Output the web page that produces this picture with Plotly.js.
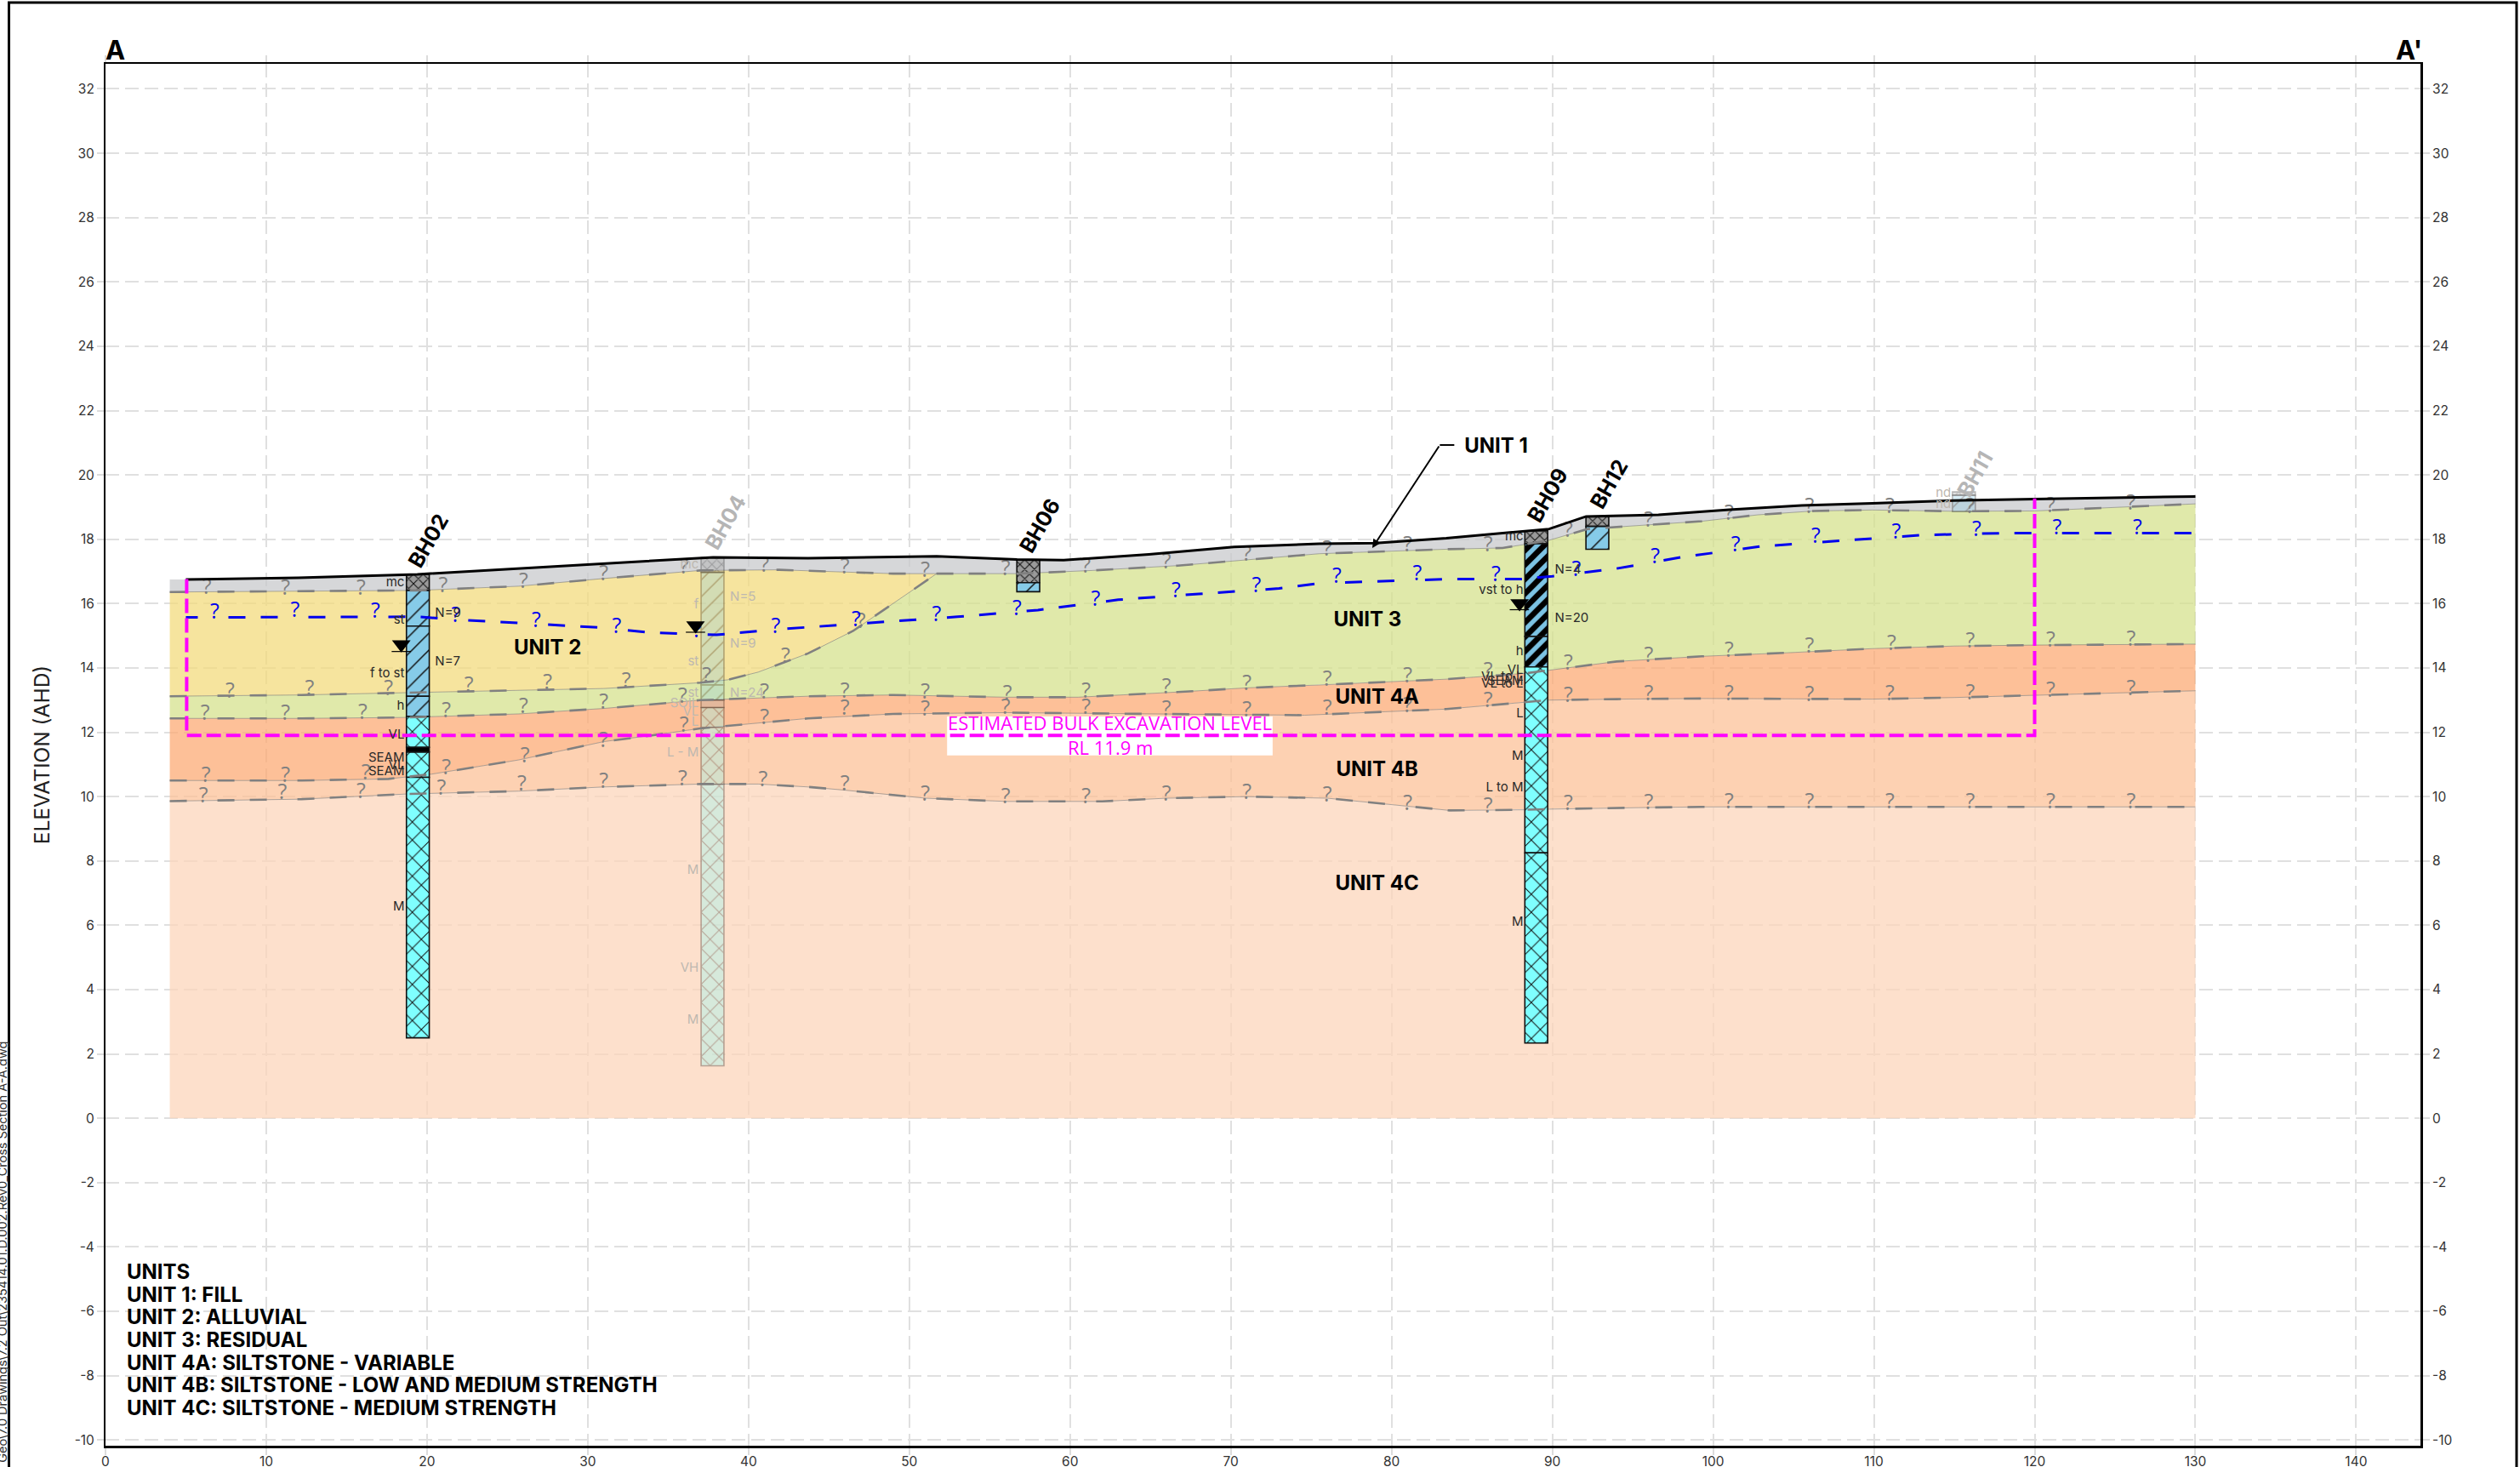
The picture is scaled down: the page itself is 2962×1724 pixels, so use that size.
<!DOCTYPE html>
<html><head><meta charset="utf-8">
<script src="https://cdn.plot.ly/plotly-3.0.1.min.js"></script>
<style>html,body{margin:0;padding:0;background:#fff}</style>
</head><body><div id="chart" style="width:2962px;height:1724px"></div>
<script>
// ---- strata boundaries (chainage m, elevation m AHD)
const groundX=[5,12,19.4,25,30,37.8,43.7,51.7,56.7,59.6,64.9,70.2,75.5,79,83.4,88.3,89.8,92.1,96.6,101,105.5,109.9,114.9,120,130];
const groundY=[16.75,16.8,16.91,17.07,17.2,17.44,17.41,17.47,17.37,17.35,17.53,17.76,17.86,17.88,18.03,18.24,18.32,18.71,18.76,18.92,19.05,19.12,19.2,19.25,19.33];
const unit1BaseWestX=[4,19.4,25.7,31,37,41.9,43.7,49,51.7];
const unit1BaseWestY=[16.36,16.41,16.54,16.78,17.03,17.05,17.02,16.93,16.93];
const unit1BaseEastX=[56.7,61.4,66.7,71,75.5,83.4,86.9,88.3,89.8,92.2,95.8,99.3,102.8,106.3,109.9,115,120,124,130];
const unit1BaseEastY=[16.93,17.03,17.18,17.36,17.55,17.69,17.73,17.84,17.97,18.32,18.44,18.56,18.76,18.88,18.91,18.87,18.88,18.97,19.1];
const unit2BaseX=[4,12.2,18.7,23,31,37,38.7,40.6,43.7,46.5,49,51.7];
const unit2BaseY=[13.12,13.16,13.23,13.28,13.36,13.54,13.63,13.87,14.45,15.15,16.0,16.93];
const unit3BaseX=[4,12.2,18.7,25.7,31,37,43.7,49,56,60.5,66.7,71,75.5,83.4,88.3,89.8,94,99.3,104.6,109.9,115,120,130];
const unit3BaseY=[12.43,12.43,12.46,12.57,12.74,13.0,13.12,13.16,13.09,13.09,13.25,13.38,13.47,13.65,13.83,13.93,14.2,14.36,14.47,14.6,14.68,14.71,14.74];
const unit4aBaseX=[4,12.2,17.6,20.3,25.7,31,33.8,37,43.7,49,56,60.5,66.7,74.6,83.4,88.3,89.8,94,99.3,109.9,115,120,130];
const unit4aBaseY=[10.5,10.5,10.55,10.7,11.14,11.71,11.89,12.12,12.43,12.57,12.61,12.59,12.55,12.53,12.72,12.94,13.0,13.03,13.05,13.03,13.08,13.15,13.29];
const unit4bBaseX=[4,12.2,18.7,25.7,31,37,40.6,43.7,46,51,56,62,66,71,76,80,83.6,88.3,89.8,95.8,99.3,130];
const unit4bBaseY=[9.86,9.92,10.08,10.17,10.3,10.39,10.39,10.3,10.2,9.95,9.85,9.85,9.95,10.0,9.95,9.75,9.57,9.59,9.61,9.66,9.68,9.68];
const unit4cBaseX=[4,130];
const unit4cBaseY=[0,0];
const waterX=[5,19.4,21.9,25.7,31,33.8,38,41.8,50,53,58,63,68,73,75.5,83.4,88,90,94,98,103,108.2,113,118,130];
const waterY=[15.57,15.59,15.5,15.4,15.25,15.1,15.03,15.2,15.48,15.59,15.8,16.12,16.3,16.47,16.63,16.76,16.76,16.85,17.09,17.44,17.78,17.97,18.13,18.19,18.19];
const excavX=[5.05,5.05,120,120];
const excavY=[16.76,11.9,11.9,19.27];
const excavBoxX=[52.35,72.6,72.6,52.35,52.35];
const excavBoxY=[11.28,11.28,12.49,12.49,11.28];

// ---- "?" uncertainty marks along each boundary
const qUnit1X=[6.3,11.2,15.9,21,26,31,36,41,46,51,56,61,66,71,76,81,86,91,96,101,106,111,116,121,126];
const qUnit1Y=[16.47,16.44,16.43,16.52,16.65,16.89,17.1,17.16,17.1,17.0,17.05,17.13,17.26,17.49,17.65,17.78,17.79,18.24,18.55,18.76,18.98,18.98,18.98,19.0,19.09];
const qUnit2X=[7.75,12.7,17.6,22.6,27.5,32.4,37.4,42.3,47];
const qUnit2Y=[13.25,13.31,13.33,13.41,13.5,13.56,13.72,14.31,15.4];
const qUnit3X=[6.2,11.2,16,21.2,26,31,35.9,41,46,51,56.1,61,66,71,76,81,86,91,96,101,106,111.1,116,121,126];
const qUnit3Y=[12.55,12.55,12.57,12.62,12.75,12.9,13.08,13.21,13.25,13.21,13.17,13.25,13.36,13.47,13.6,13.72,13.87,14.12,14.36,14.51,14.64,14.73,14.8,14.82,14.85];
const qUnit4aX=[6.25,11.2,16.2,21.2,26.1,31,36,41,46,51,56,61,66,71,76,81,86,91,96,101,106,111,116,121,126];
const qUnit4aY=[10.62,10.61,10.7,10.87,11.22,11.71,12.18,12.43,12.7,12.68,12.73,12.73,12.68,12.65,12.7,12.8,12.94,13.1,13.16,13.16,13.12,13.16,13.19,13.27,13.32];
const qUnit4bX=[6.1,11,15.9,20.9,25.9,31,35.9,40.9,46,51,56,61,66,71,76,81,86,91,96,101,106,111,116,121,126];
const qUnit4bY=[9.99,10.08,10.12,10.23,10.36,10.43,10.52,10.48,10.35,10.05,9.95,9.95,10.05,10.1,10.0,9.75,9.66,9.75,9.77,9.8,9.8,9.8,9.8,9.8,9.8];
const qWaterX=[6.8,11.8,16.8,21.8,26.8,31.8,36.8,41.7,46.7,51.7,56.7,61.6,66.6,71.6,76.6,81.6,86.5,91.5,96.4,101.4,106.4,111.4,116.4,121.4,126.4];
const qWaterY=[15.7,15.74,15.72,15.59,15.44,15.25,15.12,15.25,15.45,15.62,15.81,16.1,16.37,16.52,16.8,16.9,16.86,17.02,17.42,17.79,18.05,18.18,18.26,18.31,18.31];

// ---- boreholes
const boreNames=['BH02','BH04','BH06','BH09','BH12','BH11'];
const boreNameX=[20.08,38.54,58.1,89.7,93.5,116.3];
const boreNameY=[17.97,18.53,18.42,19.37,19.72,20.03];
const boreNameFaded=[false,true,false,false,false,true];
const fillBarX=[19.43,57.4,89,92.8];
const fillBarTop=[16.91,17.35,18.26,18.7];
const fillBarBot=[16.41,16.65,17.86,18.4];
const hatchBarX=[19.43,19.43,19.43,57.4,92.8];
const hatchBarTop=[16.41,15.3,13.12,16.65,18.4];
const hatchBarBot=[15.3,13.12,12.49,16.37,17.69];
const denseBarX=[89,89];
const denseBarTop=[17.86,14.98];
const denseBarBot=[14.98,14.03];
const rockBarX=[19.43,19.43,19.43,89,89];
const rockBarTop=[12.49,11.39,10.6,14.03,8.25];
const rockBarBot=[11.53,10.6,2.5,8.25,2.34];
const seamBarX=[19.43];
const seamBarTop=[11.53];
const seamBarBot=[11.39];
const paleFillX=[37.76,115.6];
const paleFillTop=[17.44,19.47];
const paleFillBot=[16.97,19.37];
const paleHatchX=[37.76,37.76,115.6];
const paleHatchTop=[16.97,13.47,19.37];
const paleHatchBot=[13.47,13.0,18.86];
const paleSoilX=[37.76];
const paleSoilTop=[13.0];
const paleSoilBot=[12.77];
const paleRockX=[37.76,37.76,37.76];
const paleRockTop=[12.77,12.15,10.38];
const paleRockBot=[12.15,10.38,1.63];

const leftText=['mc','st','f to st','h','VL','SEAM','VL','SEAM','M','mc','vst to h','h','VL','VL to L','SEAM','VL to L','L','M','L to M','M'];
const leftX=[18.6,18.6,18.6,18.6,18.6,18.6,18.6,18.6,18.6,88.2,88.2,88.2,88.2,88.2,88.2,88.2,88.2,88.2,88.2,88.2];
const leftY=[16.65,15.46,13.8,12.81,11.91,11.18,10.96,10.76,6.55,18.06,16.4,14.5,13.92,13.69,13.58,13.5,12.57,11.24,10.25,6.07];
const rightText=['N=9','N=7','N=4','N=20'];
const rightX=[20.5,20.5,90.15,90.15];
const rightY=[15.68,14.18,17.04,15.53];
const paleLeftText=['mc','f','st','st','SOIL','VL','L','L - M','M','VH','M','nd','nd'];
const paleLeftX=[36.9,36.9,36.9,36.9,36.9,36.9,36.9,36.9,36.9,36.9,36.9,114.8,114.8];
const paleLeftY=[17.18,15.94,14.18,13.21,12.87,12.61,12.3,11.34,7.7,4.65,3.04,19.41,19.07];
const paleRightText=['N=5','N=9','N=24'];
const paleRightX=[38.85,38.85,38.85];
const paleRightY=[16.2,14.73,13.21];

const tableX=[18.4,36.7,87.96];
const tableY=[14.73,15.32,16.01];
const tableRuleX=[17.8,19.0,null,36.1,37.3,null,87.35,88.55];
const tableRuleY=[14.51,14.51,null,15.11,15.11,null,15.81,15.81];

// ---- text
const unitNames=['UNIT 1','UNIT 2','UNIT 3','UNIT 4A','UNIT 4B','UNIT 4C'];
const unitNameX=[86.5,27.5,78.5,79.1,79.1,79.1];
const unitNameY=[20.85,14.58,15.46,13.05,10.8,7.25];
const unitLeaderX=[83.9,83.0];
const unitLeaderY=[20.93,20.93];
const unitLeaderEnd=[78.8,17.73];
const keyLines=['UNITS','UNIT 1: FILL','UNIT 2: ALLUVIAL','UNIT 3: RESIDUAL','UNIT 4A: SILTSTONE - VARIABLE','UNIT 4B: SILTSTONE - LOW AND MEDIUM STRENGTH','UNIT 4C: SILTSTONE - MEDIUM STRENGTH'];
const keyY=[-4.775,-5.48,-6.185,-6.89,-7.595,-8.3,-9.005];
const xTicks=[0,10,20,30,40,50,60,70,80,90,100,110,120,130,140];
const yTicks=[-10,-8,-6,-4,-2,0,2,4,6,8,10,12,14,16,18,20,22,24,26,28,30,32];
const filePath='Rd, Geo\\7.0 Drawings\\7.2 Out\\235414.01.D.002.Rev0_Cross Section A-A.dwg';

// ---- styling
const SANS='Inter, "Open Sans", sans-serif', HUM='"Open Sans", sans-serif';
const XR=[0,144], YR=[-10.18,32.78];
const INK='#2a2a2a', FADED='#bdb8b0';
const GREY_DASH='20px,36px,20px,18px', 
      BLUE_DASH='14px,36px,'+Array(26).fill('20px,18px,20px,36px').join(',');
const rev=a=>a.slice().reverse();
function poly(topX,topY,botX,botY,col){
  return {type:'scatter',mode:'lines',x:topX.concat(rev(botX)),y:topY.concat(rev(botY)),fill:'toself',fillcolor:col,line:{width:0},hoverinfo:'skip',xaxis:'x',yaxis:'y'};
}
function thin(x,y){return {type:'scatter',mode:'lines',x,y,line:{color:'rgba(120,120,120,.6)',width:1},hoverinfo:'skip',xaxis:'x',yaxis:'y'};}
function dashed(x,y){return {type:'scatter',mode:'lines',x,y,line:{color:'#808080',width:2.6,dash:GREY_DASH},hoverinfo:'skip',xaxis:'x3',yaxis:'y3'};}
function marks(x,y,color){return {type:'scatter',mode:'text',x,y,text:x.map(()=>'?'),textposition:'middle center',textfont:{family:HUM,size:25,color},hoverinfo:'skip',cliponaxis:false,xaxis:'x3',yaxis:'y3'};}
function bars(xs,tops,bots,bg,shape,fg,size,sol,opa){
  return {type:'bar',x:xs,base:bots,y:tops.map((t,i)=>t-bots[i]),width:xs.map(()=>1.42),opacity:opa||1,
    marker:{color:bg,line:{color:'#111',width:1.6},pattern:{shape,fgcolor:fg,bgcolor:bg,size,solidity:sol,fillmode:'replace'}},hoverinfo:'skip',xaxis:'x2',yaxis:'y2'};
}
function labels(text,x,y,pos,color,size){
  return {type:'scatter',mode:'text',x,y,text,textposition:pos,textfont:{family:SANS,size:size||15,color},hoverinfo:'skip',cliponaxis:false,xaxis:'x3',yaxis:'y3'};
}
const unit1TopX=[4].concat(groundX), unit1TopY=[16.75].concat(groundY);
const unit1BaseX=unit1BaseWestX.concat(unit1BaseEastX), unit1BaseY=unit1BaseWestY.concat(unit1BaseEastY);
const unit3TopX=unit2BaseX.concat(unit1BaseEastX), unit3TopY=unit2BaseY.concat(unit1BaseEastY);

const traces=[
  poly(unit1TopX,unit1TopY,unit1BaseX,unit1BaseY,'rgba(200,202,204,.75)'),
  poly(unit1BaseWestX,unit1BaseWestY,unit2BaseX,unit2BaseY,'rgba(243,219,126,.75)'),
  poly(unit3TopX,unit3TopY,unit3BaseX,unit3BaseY,'rgba(214,226,142,.75)'),
  poly(unit3BaseX,unit3BaseY,unit4aBaseX,unit4aBaseY,'rgba(252,171,118,.75)'),
  poly(unit4aBaseX,unit4aBaseY,unit4bBaseX,unit4bBaseY,'rgba(252,194,152,.75)'),
  poly(unit4bBaseX,unit4bBaseY,unit4cBaseX,unit4cBaseY,'rgba(252,214,187,.75)'),
  thin(unit1BaseX,unit1BaseY),thin(unit2BaseX,unit2BaseY),thin(unit3BaseX,unit3BaseY),thin(unit4aBaseX,unit4aBaseY),thin(unit4bBaseX,unit4bBaseY),
  bars(paleFillX,paleFillTop,paleFillBot,'#9a9a9a','x','#111',8,.25,.3),
  bars(paleHatchX,paleHatchTop,paleHatchBot,'#86cbe8','/','#111',14,.11,.3),
  bars(paleSoilX,paleSoilTop,paleSoilBot,'#a8a8a8','','#111',14,.1,.3),
  bars(paleRockX,paleRockTop,paleRockBot,'#7fffff','x','#111',15,.13,.3),
  bars(fillBarX,fillBarTop,fillBarBot,'#9a9a9a','x','#111',8,.25),
  bars(hatchBarX,hatchBarTop,hatchBarBot,'#86cbe8','/','#111',14,.11),
  bars(denseBarX,denseBarTop,denseBarBot,'#7cc3e4','/','#000',12,.55),
  bars(rockBarX,rockBarTop,rockBarBot,'#7fffff','x','#111',15,.13),
  bars(seamBarX,seamBarTop,seamBarBot,'#000','','#000',8,.2),
  dashed(unit1BaseX,unit1BaseY),dashed(unit2BaseX,unit2BaseY),dashed(unit3BaseX,unit3BaseY),dashed(unit4aBaseX,unit4aBaseY),dashed(unit4bBaseX,unit4bBaseY),
  marks(qUnit1X,qUnit1Y,'#808080'),marks(qUnit2X,qUnit2Y,'#808080'),marks(qUnit3X,qUnit3Y,'#808080'),marks(qUnit4aX,qUnit4aY,'#808080'),marks(qUnit4bX,qUnit4bY,'#808080'),
  {type:'scatter',mode:'lines',x:groundX,y:groundY,line:{color:'#000',width:3},hoverinfo:'skip',xaxis:'x3',yaxis:'y3'},
  {type:'scatter',mode:'lines',x:waterX,y:waterY,line:{color:'#0000ee',width:3,dash:BLUE_DASH},hoverinfo:'skip',xaxis:'x3',yaxis:'y3'},
  marks(qWaterX,qWaterY,'#0000ee'),
  {type:'scatter',mode:'lines',x:excavBoxX,y:excavBoxY,fill:'toself',fillcolor:'#fff',line:{width:0},hoverinfo:'skip',xaxis:'x3',yaxis:'y3'},
  {type:'scatter',mode:'lines',x:excavX,y:excavY,line:{color:'#ff00ff',width:4,dash:'17px,6px'},hoverinfo:'skip',xaxis:'x3',yaxis:'y3'},
  {type:'scatter',mode:'markers',x:tableX,y:tableY,marker:{symbol:'triangle-down',size:19,color:'#000',line:{width:0}},hoverinfo:'skip',xaxis:'x3',yaxis:'y3'},
  {type:'scatter',mode:'lines',x:tableRuleX,y:tableRuleY,connectgaps:false,line:{color:'#000',width:1.2},hoverinfo:'skip',xaxis:'x3',yaxis:'y3'},
  labels(leftText,leftX,leftY,'middle left',INK),
  labels(rightText,rightX,rightY,'middle right',INK),
  labels(paleLeftText,paleLeftX,paleLeftY,'middle left',FADED),
  labels(paleRightText,paleRightX,paleRightY,'middle right',FADED),
  {type:'scatter',mode:'text',x:unitNameX,y:unitNameY,text:unitNames,textposition:'middle center',textfont:{family:SANS,size:24,color:'#000',weight:700},hoverinfo:'skip',xaxis:'x3',yaxis:'y3'},
  {type:'scatter',mode:'lines',x:unitLeaderX,y:unitLeaderY,line:{color:'#000',width:2},hoverinfo:'skip',xaxis:'x3',yaxis:'y3'},
];

const toPaperX=p=>(p-123.5)/2721.5, toPaperY=p=>(1699-p)/1624;
const annotations=[
  {xref:'x',yref:'y',x:unitLeaderEnd[0],y:unitLeaderEnd[1],axref:'x',ayref:'y',ax:unitLeaderX[1],ay:unitLeaderY[1],text:'',showarrow:true,arrowhead:2,arrowsize:1,arrowwidth:2,arrowcolor:'#000'},
  {xref:'paper',yref:'paper',x:toPaperX(122),y:toPaperY(58.5),xanchor:'left',yanchor:'middle',text:'<b>A</b>',showarrow:false,font:{family:SANS,size:31,color:'#000'},borderpad:0},
  {xref:'paper',yref:'paper',x:toPaperX(2848),y:toPaperY(58.5),xanchor:'right',yanchor:'middle',text:"<b>A'</b>",showarrow:false,font:{family:SANS,size:31,color:'#000'},borderpad:0},
  {xref:'x',yref:'y',x:62.5,y:12.3,text:'ESTIMATED BULK EXCAVATION LEVEL',showarrow:false,font:{family:HUM,size:22,color:'#ff00ff'}},
  {xref:'x',yref:'y',x:62.5,y:11.54,text:'RL 11.9 m',showarrow:false,font:{family:HUM,size:22,color:'#ff00ff'}},
  {xref:'paper',yref:'paper',x:toPaperX(2),y:toPaperY(1223),xanchor:'center',yanchor:'top',textangle:-90,text:filePath,showarrow:false,font:{family:SANS,size:14.5,color:'#333'},borderpad:0}
];
boreNames.forEach((n,i)=>annotations.push({xref:'x',yref:'y',x:boreNameX[i],y:boreNameY[i],text:'<b>'+n+'</b>',textangle:-60,showarrow:false,font:{family:SANS,size:25,color:boreNameFaded[i]?'#b5b5b5':'#000'}}));
keyLines.forEach((t,i)=>annotations.push({xref:'x',yref:'y',x:1.28,y:keyY[i],xanchor:'left',yanchor:'middle',text:'<b>'+t+'</b>',showarrow:false,font:{family:SANS,size:24,color:'#000'},borderpad:0}));

const tickFont={family:SANS,size:15.5,color:'#333'};
const GRID='#e0e0e0', TICKC='#dcdcdc';
const layout={
  width:2962,height:1724,paper_bgcolor:'#fff',plot_bgcolor:'#fff',showlegend:false,
  margin:{l:123.5,r:117,t:75,b:25,pad:0},barmode:'overlay',annotations,
  xaxis:{range:XR,tickmode:'array',tickvals:xTicks,ticktext:xTicks.map(String),showgrid:true,gridcolor:GRID,gridwidth:2,griddash:'16px,7px',zeroline:false,
    showline:true,linecolor:'#000',linewidth:3,ticks:'outside',ticklen:8,tickwidth:2,tickcolor:TICKC,tickfont:tickFont,ticklabelstandoff:-6},
  yaxis:{range:YR,tickmode:'array',tickvals:yTicks,ticktext:yTicks.map(String),showgrid:true,gridcolor:GRID,gridwidth:2,griddash:'16px,7px',zeroline:false,
    showline:true,linecolor:'#000',linewidth:2,ticks:'outside',ticklen:8,tickwidth:2,tickcolor:TICKC,tickfont:tickFont,
    title:{text:'ELEVATION (AHD)',font:{family:SANS,size:24.5,color:'#222'},standoff:22}},
  xaxis2:{range:XR,overlaying:'x',side:'top',showgrid:false,zeroline:false,tickmode:'array',tickvals:xTicks,showticklabels:false,
    showline:true,linecolor:'#000',linewidth:2,ticks:'outside',ticklen:8,tickwidth:2,tickcolor:TICKC},
  yaxis2:{range:YR,overlaying:'y',side:'right',showgrid:false,zeroline:false,tickmode:'array',tickvals:yTicks,ticktext:yTicks.map(String),
    showline:true,linecolor:'#000',linewidth:3,ticks:'outside',ticklen:8,tickwidth:2,tickcolor:TICKC,tickfont:tickFont},
  xaxis3:{range:XR,overlaying:'x',visible:false},
  yaxis3:{range:YR,overlaying:'y',visible:false},
  shapes:[{type:'rect',xref:'paper',yref:'paper',x0:toPaperX(10),x1:toPaperX(2958),y0:toPaperY(1760),y1:toPaperY(3),line:{color:'#000',width:3},fillcolor:'rgba(0,0,0,0)',layer:'below'}]
};
Plotly.newPlot('chart',traces,layout,{displayModeBar:false,staticPlot:true,responsive:false});
</script></body></html>
